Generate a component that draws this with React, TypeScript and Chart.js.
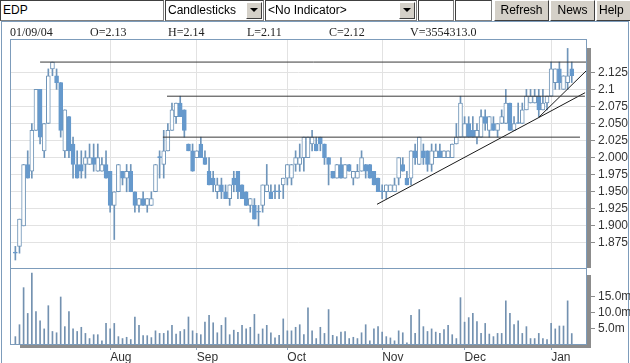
import React, { useEffect, useRef } from 'react';
import { Chart, registerables } from 'chart.js';

Chart.register(...registerables);

// ---- data ----
const opens = [1.86,1.87,1.90,1.99,1.98,2.04,2.10,2.01,2.05,2.13,2.12,2.11,2.01,2.06,2.02,1.99,1.99,1.99,1.99,2.00,1.98,1.98,1.99,1.98,1.93,1.95,1.98,1.97,1.98,1.95,1.93,1.94,1.93,1.93,1.95,2.00,1.99,2.01,2.04,2.06,2.08,2.07,2.02,2.01,2.00,2.02,2.00,1.98,1.97,1.95,1.96,1.95,1.94,1.97,1.98,1.96,1.95,1.93,1.93,1.92,1.93,1.95,1.95,1.95,1.95,1.96,1.97,1.97,1.99,1.99,2.00,2.00,2.02,2.02,2.03,2.02,2.00,1.98,1.97,1.99,1.97,1.99,1.97,1.97,1.98,1.99,1.99,1.98,1.97,1.95,1.95,1.95,1.95,1.97,1.99,1.97,1.97,2.01,1.99,2.01,2.01,1.99,2.00,2.01,2.00,2.00,2.00,2.02,2.03,2.03,2.05,2.04,2.03,2.03,2.06,2.04,2.05,2.04,2.05,2.05,2.08,2.04,2.05,2.05,2.07,2.08,2.08,2.09,2.07,2.08,2.09,2.11,2.13,2.10,2.11,2.13];
const highs = [1.87,1.91,1.99,2.01,2.05,2.10,2.10,2.05,2.13,2.14,2.13,2.11,2.07,2.06,2.03,2.01,2.01,2.01,2.02,2.02,2.02,2.00,2.01,1.98,1.95,1.99,1.98,1.99,1.99,1.95,1.94,1.95,1.94,1.95,1.99,2.01,2.04,2.05,2.08,2.08,2.09,2.07,2.02,2.02,2.01,2.03,2.01,2.00,1.98,1.97,1.97,1.96,1.96,1.98,1.98,1.96,1.95,1.94,1.94,1.93,1.96,1.99,1.96,1.96,1.96,1.97,1.99,1.99,2.01,2.02,2.03,2.03,2.04,2.03,2.03,2.02,2.00,1.98,1.99,2.00,1.99,1.99,1.98,1.99,2.01,1.99,1.99,1.98,1.97,1.96,1.96,1.96,1.97,2.00,2.00,1.98,2.01,2.02,2.03,2.02,2.01,2.02,2.02,2.02,2.01,2.01,2.02,2.05,2.09,2.06,2.06,2.06,2.05,2.07,2.07,2.06,2.06,2.05,2.07,2.10,2.08,2.06,2.08,2.08,2.10,2.10,2.10,2.10,2.10,2.09,2.14,2.13,2.14,2.12,2.16,2.14];
const lows = [1.85,1.86,1.90,1.97,1.97,2.04,2.02,2.00,2.05,2.12,2.10,2.03,2.00,2.00,1.97,1.97,1.97,1.97,1.99,1.98,1.98,1.98,1.97,1.92,1.88,1.95,1.96,1.95,1.95,1.92,1.92,1.93,1.92,1.93,1.95,1.97,1.97,2.01,2.04,2.05,2.06,2.03,2.01,1.98,2.00,2.00,1.99,1.96,1.95,1.94,1.94,1.94,1.93,1.95,1.94,1.94,1.93,1.92,1.91,1.90,1.92,1.95,1.94,1.94,1.94,1.94,1.96,1.96,1.98,1.98,1.98,2.00,2.01,2.01,2.01,1.99,1.96,1.97,1.97,1.97,1.97,1.98,1.96,1.97,1.98,1.97,1.97,1.96,1.95,1.94,1.94,1.95,1.95,1.96,1.98,1.96,1.96,1.99,1.99,1.99,1.98,1.98,2.00,2.00,2.00,2.00,2.00,2.02,2.03,2.03,2.03,2.03,2.02,2.03,2.04,2.03,2.04,2.03,2.05,2.05,2.04,2.04,2.05,2.05,2.07,2.08,2.08,2.06,2.07,2.07,2.09,2.10,2.10,2.10,2.10,2.11];
const closes = [1.86,1.91,1.99,1.97,2.04,2.10,2.03,2.05,2.12,2.14,2.11,2.04,2.07,2.01,1.99,1.97,1.98,2.00,2.00,1.99,2.00,1.99,1.97,1.93,1.95,1.99,1.97,1.98,1.95,1.93,1.94,1.93,1.94,1.94,1.99,2.00,2.01,2.04,2.07,2.08,2.06,2.04,2.01,1.98,2.01,2.00,1.99,1.96,1.96,1.96,1.95,1.94,1.96,1.96,1.95,1.94,1.93,1.94,1.91,1.92,1.96,1.96,1.94,1.95,1.95,1.97,1.99,1.99,2.00,2.00,2.03,2.03,2.03,2.01,2.02,2.00,1.99,1.97,1.99,1.97,1.99,1.98,1.98,1.98,2.00,1.98,1.97,1.96,1.95,1.95,1.96,1.96,1.96,2.00,1.98,1.96,2.01,2.00,2.03,2.00,1.99,2.01,2.01,2.00,2.01,2.01,2.02,2.03,2.08,2.05,2.03,2.03,2.04,2.06,2.05,2.06,2.04,2.05,2.06,2.08,2.04,2.05,2.05,2.07,2.09,2.09,2.09,2.07,2.08,2.09,2.13,2.13,2.11,2.12,2.12,2.12];
const volumesM = [2.6,6.3,17.8,9.8,22.3,10.4,7.5,5.0,12.2,4.2,3.8,14.9,5.7,10.4,5.0,4.2,5.5,3.6,2.0,3.2,3.2,1.3,6.7,5.0,6.7,2.6,2.0,2.4,1.7,8.7,6.1,2.9,2.9,2.3,4.4,3.6,3.6,4.4,6.1,3.4,4.2,4.8,8.7,4.4,3.6,3.2,7.1,9.2,6.9,3.8,6.1,8.5,3.2,4.6,3.9,6.1,5.0,5.5,9.5,3.4,5.0,6.1,3.8,2.2,3.0,8.1,4.4,4.4,5.5,6.3,3.2,11.5,4.4,2.0,5.5,3.6,11.0,3.0,2.6,4.0,4.2,2.0,2.4,2.0,3.8,6.3,1.3,5.0,5.7,4.0,2.6,2.2,1.3,4.4,3.8,0.7,9.2,3.6,11.0,5.7,4.2,5.0,4.0,3.6,4.8,6.1,3.2,2.0,14.7,7.1,8.5,9.8,7.3,3.6,6.7,3.4,2.6,3.6,3.6,13.7,9.8,6.3,7.5,3.6,5.7,2.0,2.0,3.6,2.0,1.7,6.7,5.0,5.9,5.9,13.7,3.554313];

const monthLabels = ['Aug', 'Sep', 'Oct', 'Nov', 'Dec', 'Jan'];
const monthIndex = [23, 44, 66, 89, 109, 130];

const priceTicks = [2.125, 2.1, 2.075, 2.05, 2.025, 2.0, 1.975, 1.95, 1.925, 1.9, 1.875];
const priceTickLabels = ['2.125', '2.1', '2.075', '2.050', '2.025', '2.000', '1.975', '1.950', '1.925', '1.900', '1.875'];
const volTicks = [15, 10, 5];
const volTickLabels = ['15.0m', '10.0m', '5.0m'];

const resistanceLevels = [2.14, 2.09, 2.03];
const resistanceFrom = [6.0, 36.8, 35.8];
const resistanceTo = [138.7, 138.2, 137.0];
const supportLineX = [87.75, 138.23];
const supportLineY = [1.9316, 2.0951];
const steepLineX = [127.07, 138.71];
const steepLineY = [2.0595, 2.1284];

const infoItems = ['01/09/04', 'O=2.13', 'H=2.14', 'L=2.11', 'C=2.12', 'V=3554313.0'];
const infoX = [10, 90, 168, 247, 329, 410];

// ---- styles ----
const SANS = "'Liberation Sans', Arial, sans-serif";
const SERIF = "'Liberation Serif', 'Times New Roman', serif";
const DOWN_FILL = '#6699cc';
const UP_EDGE = '#7095b8';
const WICK = '#6f95ba';
const VOL = '#7391b0';
const FRAME = '#7d9cbb';

const framePlugin = {
  id: 'frame',
  beforeDraw(chart: any) {
    const { ctx, chartArea: a } = chart;
    ctx.save();
    ctx.fillStyle = '#ffffff';
    ctx.fillRect(a.left, a.top, a.right - a.left, a.bottom - a.top);
    ctx.restore();
  },
  afterDraw(chart: any) {
    const { ctx, chartArea: a, scales } = chart;
    const split = Math.round(scales.y.bottom);
    ctx.save();
    ctx.fillStyle = '#8c8c8c';
    ctx.fillRect(a.right, a.top + 9, 4, split - a.top - 9);
    ctx.fillRect(a.right, split + 7, 4, a.bottom - split - 7 + 3);
    ctx.fillRect(a.left + 10, a.bottom, a.right - a.left - 10 + 4, 3);
    ctx.strokeStyle = FRAME;
    ctx.lineWidth = 1;
    ctx.strokeRect(a.left + 0.5, a.top + 0.5, a.right - a.left - 1, split - a.top);
    ctx.strokeRect(a.left + 0.5, split + 0.5, a.right - a.left - 1, a.bottom - split - 1);
    ctx.restore();
  },
};

function Box(props: { left: number; width: number; children?: any }) {
  return (
    <div
      style={{
        position: 'absolute', left: props.left, top: 0, width: props.width, height: 21,
        boxSizing: 'border-box', background: '#fff',
        borderTop: '1px solid #404040', borderLeft: '1px solid #404040',
        borderRight: '1px solid #808080', borderBottom: '1px solid #808080',
        fontFamily: SANS, fontSize: 12, lineHeight: '19px', paddingLeft: 2, color: '#000',
        whiteSpace: 'nowrap', overflow: 'hidden',
      }}
    >
      {props.children}
    </div>
  );
}

function Select(props: { left: number; width: number; text: string }) {
  return (
    <div style={{ position: 'absolute', left: props.left, top: 0, width: props.width, height: 21 }}>
      <Box left={0} width={props.width}>{props.text}</Box>
      <div
        style={{
          position: 'absolute', right: 2, top: 2, width: 16, height: 17, boxSizing: 'border-box',
          background: '#d4d0c8', borderTop: '1px solid #fff', borderLeft: '1px solid #fff',
          borderRight: '1px solid #404040', borderBottom: '1px solid #404040',
        }}
      >
        <div
          style={{
            position: 'absolute', left: 3, top: 5, width: 0, height: 0,
            borderLeft: '4px solid transparent', borderRight: '4px solid transparent', borderTop: '4px solid #000',
          }}
        />
      </div>
    </div>
  );
}

function Button(props: { left: number; width: number; text: string; align?: string }) {
  return (
    <div
      style={{
        position: 'absolute', left: props.left, top: 0, width: props.width, height: 21,
        boxSizing: 'border-box', background: '#d4d0c8',
        borderTop: '1px solid #ffffff', borderLeft: '1px solid #ffffff',
        borderRight: '1px solid #404040', borderBottom: '1px solid #404040',
        fontFamily: SANS, fontSize: 12, lineHeight: '19px', textAlign: (props.align || 'center') as any,
        paddingLeft: props.align ? 2 : 0, color: '#000',
        whiteSpace: 'nowrap', overflow: 'hidden',
      }}
    >
      {props.text}
    </div>
  );
}

export default function App() {
  const ref = useRef<HTMLCanvasElement | null>(null);

  useEffect(() => {
    if (!ref.current) return;
    const idx = opens.map((_, i) => i);
    const isUp = idx.map((i) => closes[i] > opens[i]);

    const lineDatasets: any[] = resistanceLevels.map((lvl, k) => ({
      type: 'line',
      data: [{ x: resistanceFrom[k], y: lvl }, { x: resistanceTo[k], y: lvl }],
      borderColor: '#3a3a3a', borderWidth: 1, pointRadius: 0, yAxisID: 'y', order: 0,
    }));
    lineDatasets.push({
      type: 'line',
      data: supportLineX.map((x, k) => ({ x, y: supportLineY[k] })),
      borderColor: '#1a1a1a', borderWidth: 1, pointRadius: 0, yAxisID: 'y', order: 0,
    });
    lineDatasets.push({
      type: 'line',
      data: steepLineX.map((x, k) => ({ x, y: steepLineY[k] })),
      borderColor: '#1a1a1a', borderWidth: 1, pointRadius: 0, yAxisID: 'y', order: 0,
    });

    const tickFont = { family: SANS, size: 12 };

    const chart = new Chart(ref.current, {
      type: 'bar',
      data: {
        datasets: [
          ...lineDatasets,
          {
            type: 'bar',
            data: idx.map((i) => ({ x: i, y: [Math.min(opens[i], closes[i]), Math.max(opens[i], closes[i])] })),
            backgroundColor: idx.map((i) => (isUp[i] ? '#ffffff' : DOWN_FILL)),
            borderColor: idx.map((i) => (isUp[i] ? UP_EDGE : DOWN_FILL)),
            borderWidth: 1,
            borderSkipped: false,
            barThickness: 4,
            minBarLength: 1,
            grouped: false,
            yAxisID: 'y',
            order: 1,
          },
          {
            type: 'bar',
            data: idx.map((i) => ({ x: i, y: [lows[i], highs[i]] })),
            backgroundColor: WICK,
            borderWidth: 0,
            barThickness: 1,
            grouped: false,
            yAxisID: 'y',
            order: 2,
          },
          {
            type: 'bar',
            data: idx.map((i) => ({ x: i, y: volumesM[i] })),
            backgroundColor: VOL,
            borderWidth: 0,
            barThickness: 1,
            grouped: false,
            yAxisID: 'vol',
            order: 3,
          },
        ] as any,
      },
      options: {
        animation: false,
        responsive: false,
        maintainAspectRatio: false,
        events: [],
        layout: { padding: { left: 10, top: 39, right: 0, bottom: 0 } },
        plugins: { legend: { display: false }, tooltip: { enabled: false } },
        scales: {
          x: {
            type: 'linear',
            position: 'bottom',
            min: -1.3,
            max: 138.7,
            offset: false,
            afterBuildTicks: (s: any) => { s.ticks = monthIndex.map((v) => ({ value: v })); },
            afterFit: (s: any) => { s.height = 18; },
            ticks: {
              autoSkip: false, maxRotation: 0, align: 'start', padding: 0, color: '#333',
              font: tickFont,
              callback: (_v: any, i: number) => monthLabels[i],
            },
            grid: { color: '#e2e2e2', tickColor: '#8aa4bf', tickLength: 5, offset: false },
            border: { display: false },
          },
          y: {
            type: 'linear',
            position: 'right',
            stack: 'panes',
            stackWeight: 229,
            min: 1.8383,
            max: 2.1738,
            beginAtZero: false,
            afterBuildTicks: (s: any) => { s.ticks = priceTicks.map((v) => ({ value: v })); },
            afterFit: (s: any) => { s.width = 43; },
            ticks: {
              autoSkip: false, padding: 3, color: '#333', font: tickFont,
              callback: (_v: any, i: number) => priceTickLabels[i],
            },
            grid: { color: '#e2e2e2', tickColor: '#8c8c8c', tickLength: 8 },
            border: { display: false },
          },
          vol: {
            type: 'linear',
            position: 'right',
            stack: 'panes',
            stackWeight: 77,
            min: 0,
            max: 23.9,
            afterBuildTicks: (s: any) => { s.ticks = volTicks.map((v) => ({ value: v })); },
            afterFit: (s: any) => { s.width = 43; },
            ticks: {
              autoSkip: false, padding: 3, color: '#333', font: tickFont,
              callback: (_v: any, i: number) => volTickLabels[i],
            },
            grid: { drawOnChartArea: false, tickColor: '#8c8c8c', tickLength: 8 },
            border: { display: false },
          },
        },
      } as any,
      plugins: [framePlugin],
    });
    return () => chart.destroy();
  }, []);

  return (
    <div style={{ position: 'fixed', left: 0, top: 0, width: 630, height: 363, background: '#fff', overflow: 'hidden' }}>
      <div
        style={{
          position: 'absolute', left: 1, top: 21, width: 628, height: 360, boxSizing: 'border-box',
          borderTop: `1px solid ${FRAME}`, borderLeft: `1px solid ${FRAME}`, borderRight: `1px solid ${FRAME}`,
        }}
      />
      <canvas ref={ref} width={630} height={363} style={{ position: 'absolute', left: 0, top: 0, width: 630, height: 363 }} />
      <Box left={0} width={164}>EDP</Box>
      <Select left={165} width={99} text="Candlesticks" />
      <Select left={265} width={152} text="<No Indicator>" />
      <Box left={418} width={36} />
      <Box left={455} width={37} />
      <Button left={494} width={55} text="Refresh" />
      <Button left={550} width={45} text="News" />
      <Button left={596} width={40} text="Help" align="left" />
      {infoItems.map((t, k) => (
        <div
          key={k}
          style={{
            position: 'absolute', left: infoX[k], top: 25, fontFamily: SERIF, fontSize: 12,
            lineHeight: '14px', color: '#222', whiteSpace: 'nowrap',
          }}
        >
          {t}
        </div>
      ))}
    </div>
  );
}
